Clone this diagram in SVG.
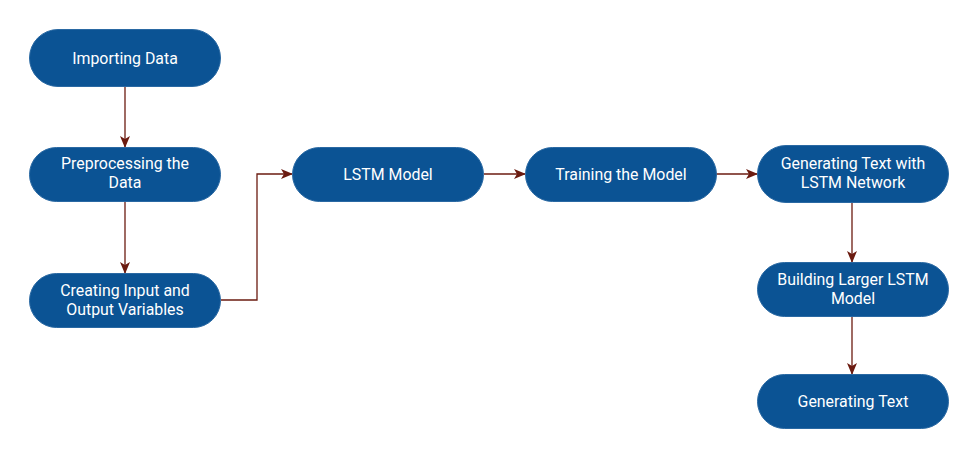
<svg xmlns="http://www.w3.org/2000/svg" width="976" height="462" viewBox="0 0 976 462">
<style>
.n{fill:#0b5394;stroke:#2a69a3;stroke-width:1}
.t{font-family:Roboto,"Liberation Sans",sans-serif;font-size:15.9px;fill:#ffffff;text-anchor:middle}
.c{fill:none;stroke:#6b1b10;stroke-width:1.3}
</style>
<defs>
<marker id="a" viewBox="0 0 12 10" refX="11" refY="5" markerWidth="12" markerHeight="10" markerUnits="userSpaceOnUse" orient="auto">
<path d="M0,0 L12,5 L0,10 L3,5 Z" fill="#6b1b10"/>
</marker>
</defs>
<rect width="976" height="462" fill="#ffffff"/>
<g id="connectors">
<path class="c" d="M125,87 V147" marker-end="url(#a)"/>
<path class="c" d="M125,201 V273" marker-end="url(#a)"/>
<path class="c" d="M221,300 H257 V174 H292" marker-end="url(#a)"/>
<path class="c" d="M484,174 H525" marker-end="url(#a)"/>
<path class="c" d="M716,174 H757" marker-end="url(#a)"/>
<path class="c" d="M852,203 V262" marker-end="url(#a)"/>
<path class="c" d="M852,316 V374" marker-end="url(#a)"/>
</g>
<g id="importing">
<rect class="n" x="29.5" y="29.5" width="191" height="57" rx="28.5"/>
<text class="t" x="125" y="63.5">Importing Data</text>
</g>
<g id="preprocessing">
<rect class="n" x="29.5" y="147.5" width="191" height="54" rx="27"/>
<text class="t" x="125" y="169">Preprocessing the</text>
<text class="t" x="125" y="188">Data</text>
</g>
<g id="creating">
<rect class="n" x="29.5" y="273.5" width="191" height="54" rx="27"/>
<text class="t" x="125" y="296">Creating Input and</text>
<text class="t" x="125" y="315">Output Variables</text>
</g>
<g id="lstm">
<rect class="n" x="292.5" y="147.5" width="191" height="54" rx="27"/>
<text class="t" x="388" y="179.5">LSTM Model</text>
</g>
<g id="training">
<rect class="n" x="525.5" y="147.5" width="191" height="54" rx="27"/>
<text class="t" x="621" y="179.5">Training the Model</text>
</g>
<g id="genwith">
<rect class="n" x="757.5" y="145.5" width="191" height="57" rx="28.5"/>
<text class="t" x="853" y="169">Generating Text with</text>
<text class="t" x="853" y="188">LSTM Network</text>
</g>
<g id="building">
<rect class="n" x="757.5" y="262.5" width="191" height="54" rx="27"/>
<text class="t" x="853" y="284.5">Building Larger LSTM</text>
<text class="t" x="853" y="303.5">Model</text>
</g>
<g id="gentext">
<rect class="n" x="757.5" y="374.5" width="191" height="54" rx="27"/>
<text class="t" x="853" y="406.5">Generating Text</text>
</g>
</svg>
